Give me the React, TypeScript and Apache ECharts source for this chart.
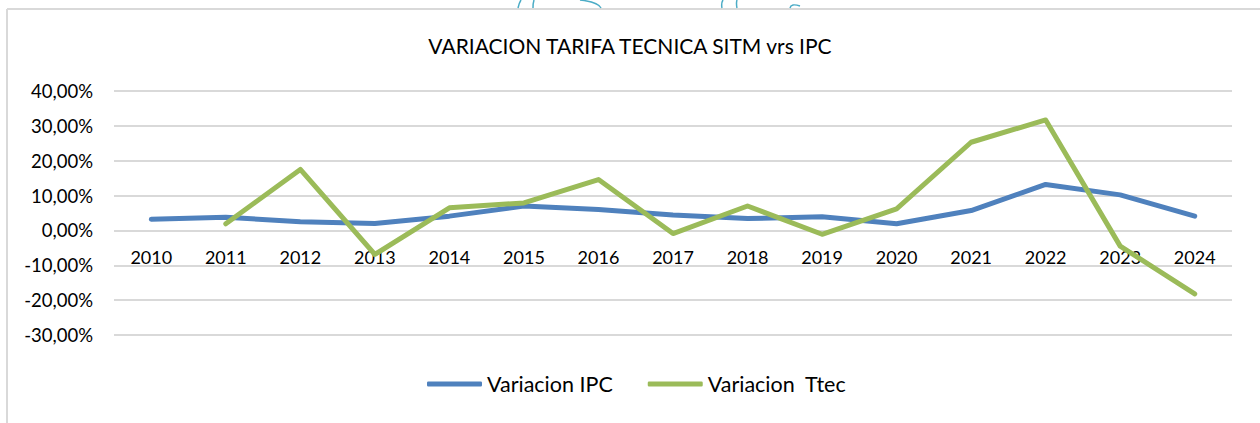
import React, { useEffect, useRef } from "react";
import * as echarts from "echarts";

const years = ["2010","2011","2012","2013","2014","2015","2016","2017","2018","2019","2020","2021","2022","2023","2024"];
const ipc = [3.2, 3.8, 2.5, 2.0, 4.1, 7.0, 6.0, 4.4, 3.4, 3.9, 1.9, 5.7, 13.2, 10.2, 4.1];
const ttec = [null, 1.9, 17.5, -6.9, 6.5, 7.9, 14.6, -0.9, 7.0, -1.1, 6.2, 25.3, 31.7, -4.5, -18.2];
const seriesNames = ["Variacion IPC", "Variacion  Ttec"];
const titleText = "VARIACION TARIFA TECNICA SITM vrs IPC";

const FONT = "Lato, 'Liberation Sans', sans-serif";

export default function App() {
  const ref = useRef<HTMLDivElement>(null);
  useEffect(() => {
    if (!ref.current) return;
    const chart = echarts.init(ref.current, null, { renderer: "svg" });
    const wm = "#4bacc6";
    chart.setOption({
      animation: false,
      backgroundColor: "#ffffff",
      title: {
        text: titleText,
        left: "center",
        top: 30,
        textStyle: { fontFamily: FONT, fontSize: 21, fontWeight: "normal", color: "#000" },
      },
      graphic: [
        { type: "line", shape: { x1: 7, y1: 9, x2: 1262, y2: 9 }, style: { stroke: "#d9d9d9", lineWidth: 2 } },
        { type: "line", shape: { x1: 7, y1: 9, x2: 7, y2: 425 }, style: { stroke: "#d9d9d9", lineWidth: 2 } },
        { type: "bezierCurve", shape: { x1: 521, y1: 0, cpx1: 519, cpy1: 3, x2: 518, y2: 8 }, style: { stroke: wm, lineWidth: 1.5, fill: null } },
        { type: "bezierCurve", shape: { x1: 534, y1: 0, cpx1: 533, cpy1: 3, x2: 533, y2: 8 }, style: { stroke: wm, lineWidth: 1.5, fill: null } },
        { type: "bezierCurve", shape: { x1: 580, y1: 0, cpx1: 598, cpy1: 2, x2: 601, y2: 8 }, style: { stroke: wm, lineWidth: 1.5, fill: null } },
        { type: "bezierCurve", shape: { x1: 723, y1: 0, cpx1: 721, cpy1: 3, x2: 722, y2: 8 }, style: { stroke: wm, lineWidth: 1.5, fill: null } },
        { type: "bezierCurve", shape: { x1: 737, y1: 0, cpx1: 736, cpy1: 3, x2: 737, y2: 8 }, style: { stroke: wm, lineWidth: 1.5, fill: null } },
        { type: "bezierCurve", shape: { x1: 790, y1: 8, cpx1: 791, cpy1: 3, x2: 800, y2: 6 }, style: { stroke: wm, lineWidth: 1.5, fill: null } },
      ],
      legend: {
        bottom: 23,
        left: 422,
        itemWidth: 55,
        itemHeight: 5,
        itemGap: 35,
        icon: "roundRect",
        textStyle: { fontFamily: FONT, fontSize: 21.5, color: "#000" },
        data: seriesNames,
      },
      grid: { left: 114, right: 28, top: 91, bottom: 88, containLabel: false },
      xAxis: {
        type: "category",
        data: years,
        boundaryGap: true,
        offset: -104,
        axisLine: { show: false, onZero: false },
        axisTick: { show: false },
        axisLabel: { fontFamily: FONT, fontSize: 18, color: "#000", margin: 17 },
      },
      yAxis: {
        type: "value",
        min: -30,
        max: 40,
        interval: 10,
        axisLine: { show: false },
        axisTick: { show: false },
        splitLine: { lineStyle: { color: "#d9d9d9", width: 2 } },
        axisLabel: {
          fontFamily: FONT,
          fontSize: 18.5,
          color: "#000",
          margin: 21,
          formatter: (v: number) => v.toFixed(2).replace(".", ",") + "%",
        },
      },
      series: [
        {
          name: seriesNames[0],
          type: "line",
          data: ipc,
          symbol: "none",
          color: "#4f81bd",
          lineStyle: { width: 5, color: "#4f81bd", cap: "round", join: "round" },
          z: 2,
        },
        {
          name: seriesNames[1],
          type: "line",
          data: ttec,
          symbol: "none",
          color: "#9bbb59",
          lineStyle: { width: 5, color: "#9bbb59", cap: "round", join: "round" },
          z: 3,
        },
      ],
    });
    return () => chart.dispose();
  }, []);
  return <div ref={ref} style={{ position: "fixed", left: 0, top: 0, width: 1260, height: 423 }} />;
}
